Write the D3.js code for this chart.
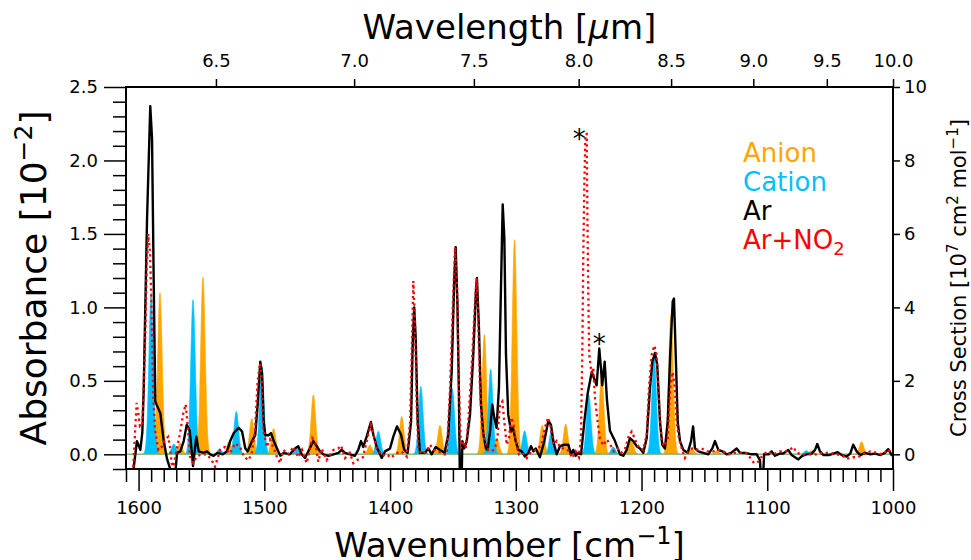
<!DOCTYPE html>
<html>
<head>
<meta charset="utf-8">
<script src="https://cdn.jsdelivr.net/npm/d3@7"></script>
<style>
  body { margin: 0; background: #fff; }
  svg { font-family: "DejaVu Sans", sans-serif; }
</style>
</head>
<body>
<div id="chart"></div>
<script>
// Chart size
const width = 971;
const height = 560;

// Stick spectra, cross section [10^7 cm^2 mol^-1]
const anionCenters = [1583, 1567, 1548.8, 1528, 1510, 1492.6, 1461, 1416, 1390.7, 1360.3, 1325, 1315, 1301, 1279, 1260.3, 1231.7, 1208, 1176.6, 1160, 1140, 1065, 1025];
const anionHeights = [4.4, 0.3, 4.83, 0.35, 0.97, 0.7, 1.62, 0.25, 1.03, 0.79, 3.26, 0.44, 5.84, 0.79, 0.82, 2.2, 0.39, 3.8, 0.16, 0.1, 0.1, 0.34];
const cationCenters = [1590, 1572, 1556.7, 1535.5, 1522.3, 1502, 1474, 1409.3, 1375.5, 1350.5, 1320, 1293, 1271.5, 1242, 1222.5, 1190, 1069];
const cationHeights = [4.4, 0.28, 4.21, 0.15, 1.17, 2.4, 0.15, 0.63, 1.85, 1.8, 2.32, 0.64, 0.67, 1.62, 0.2, 2.71, 0.1];

// Measured spectra, [wavenumber, absorbance in 10^-2]
const arSpectrum = [
  [1609, -0.3], [1604, -0.1], [1601.3, 0.09], [1598.6, 0.03], [1597, 0.15], [1595.9, 0.45],
  [1593.3, 1.59], [1590.7, 2.37], [1589.3, 2.15], [1588, 1.2], [1586.7, 0.36], [1585.3, 0.33],
  [1582.7, 0.28], [1580, 0.09], [1577.4, -0.03], [1575.2, -0.09], [1573.5, -0.2], [1571, -0.15],
  [1569.4, 0.01], [1566.8, 0.02], [1564.1, 0.09], [1561.7, 0.2], [1559.3, 0.16], [1557.5, 0.0],
  [1556.7, -0.08], [1554.1, 0.12], [1552.2, 0.02], [1548, 0.01], [1545.6, 0.02], [1543, 0.0],
  [1540.3, -0.01], [1537, 0.01], [1533, 0.0], [1529.7, 0.02], [1527.1, 0.09], [1524.3, 0.145],
  [1520.4, 0.18], [1517.7, 0.155], [1515.1, 0.04], [1513.2, 0.02], [1509.8, 0.09], [1507.2, 0.13],
  [1505.3, 0.34], [1503.2, 0.63], [1501.8, 0.55], [1500.5, 0.22], [1499.2, 0.13], [1496.5, 0.13],
  [1494.7, 0.145], [1492.5, 0.09], [1489.9, 0.04], [1487.3, -0.01], [1484.6, 0.01], [1479.6, 0.0],
  [1475.6, 0.04], [1473, 0.055], [1470.3, 0.0], [1467.6, -0.025], [1465, 0.02], [1461, 0.09],
  [1458.3, 0.055], [1455.7, 0.02], [1453, 0.0], [1449, -0.01], [1445, 0.0], [1441, 0.01],
  [1438.5, 0.03], [1435.8, 0.01], [1431.9, 0.0], [1427.9, -0.01], [1425.3, 0.03], [1423.1, 0.09],
  [1421.3, 0.05], [1418.6, 0.12], [1415.2, 0.22], [1413.3, 0.135], [1410.6, 0.05], [1406.6, -0.025],
  [1404, 0.02], [1400, 0.04], [1397.4, 0.12], [1394.5, 0.19], [1391.3, 0.135], [1388.7, 0.03],
  [1386, 0.01], [1383.3, 0.22], [1382, 0.75], [1380.8, 1.0], [1379.6, 0.79], [1378, 0.22],
  [1376.2, 0.01], [1372.2, 0.01], [1369.6, 0.04], [1366.9, 0.0], [1363.7, 0.05], [1360.3, 0.03],
  [1356.6, 0.01], [1353.7, 0.135], [1351, 0.56], [1348.9, 1.2], [1347.8, 1.41], [1346.4, 1.02],
  [1345.3, 0.45], [1344.6, -0.07], [1344.1, -0.4], [1343.5, -0.4], [1342.5, 0.09], [1341, 0.04],
  [1339, 0.09], [1336.4, 0.27], [1333.8, 0.68], [1331.6, 1.13], [1330.9, 1.2], [1329.3, 0.86],
  [1327.7, 0.34], [1325.8, 0.135], [1323.7, 0.04], [1322.4, 0.03], [1320.5, 0.155], [1318.7, 0.34],
  [1317.1, 0.25], [1315.3, 0.18], [1313.4, 0.45], [1311.8, 1.13], [1310.4, 1.7], [1309.1, 1.47],
  [1307.8, 0.68], [1306, 0.27], [1303.8, 0.155], [1302.2, 0.18], [1300.1, 0.09], [1298, 0.03],
  [1295.3, 0.02], [1292.7, -0.015], [1290, 0.01], [1287.9, 0.055], [1286, 0.02], [1284.1, 0.04],
  [1280.8, -0.02], [1277.3, 0.09], [1274.1, 0.23], [1272, 0.2], [1270.2, 0.09], [1267.5, 0.0],
  [1264.8, 0.055], [1261.4, 0.065], [1258.2, 0.065], [1256.1, 0.0], [1254.3, 0.03], [1252.4, -0.01],
  [1250.3, 0.01], [1248.1, 0.0], [1245.5, 0.22], [1242.9, 0.41], [1239.6, 0.56], [1237, 0.5],
  [1235.7, 0.47], [1233.6, 0.72], [1232.2, 0.58], [1231.3, 0.47], [1229.3, 0.63], [1227.5, 0.37],
  [1225.1, 0.16], [1221.1, 0.09], [1217.1, 0.0], [1214.5, -0.01], [1211.8, 0.03], [1209.2, 0.11],
  [1206.5, 0.09], [1203.9, 0.055], [1201.2, 0.04], [1198.6, 0.01], [1195.9, 0.11], [1193.3, 0.45],
  [1191.4, 0.63], [1189.3, 0.69], [1187.5, 0.61], [1185.3, 0.22], [1183.5, 0.065], [1181.4, 0.04],
  [1179.2, 0.22], [1177.2, 0.68], [1175.2, 1.04], [1174.2, 1.06], [1172.8, 0.68], [1171.2, 0.22],
  [1169.4, 0.09], [1166.8, 0.03], [1163.3, 0.01], [1160.6, 0.09], [1159, 0.19], [1157.5, 0.04],
  [1154.9, 0.02], [1150.9, 0.01], [1146.9, 0.0], [1143.7, 0.04], [1141.6, 0.09], [1138.9, 0.03],
  [1135.8, 0.02], [1132.3, 0.0], [1128.8, 0.01], [1124.3, 0.04], [1121.7, 0.01], [1117.7, 0.01],
  [1112.4, 0.0], [1108.4, 0.0], [1105.8, -0.04], [1104.8, -0.2], [1103.6, -0.2], [1102.5, 0.0],
  [1099, 0.0], [1096.5, 0.02], [1093.9, -0.01], [1090, 0.005], [1087.3, 0.005], [1083.3, 0.03],
  [1080.6, -0.005], [1078, -0.02], [1075.3, -0.035], [1072.2, -0.01], [1068.7, 0.0], [1064.7, 0.005],
  [1062, 0.03], [1060.2, 0.07], [1058.1, 0.02], [1055.4, -0.005], [1051, -0.005], [1047.5, 0.005],
  [1044, 0.015], [1040.8, -0.005], [1036.9, -0.015], [1034, 0.005], [1031.6, 0.065], [1028.9, 0.02],
  [1026, -0.005], [1022.3, 0.01], [1018, 0.0], [1014.3, 0.005], [1010, -0.005], [1006.4, 0.01],
  [1003.8, 0.035], [1001.1, -0.005], [1000, 0.0]
];

const arNo2Spectrum = [
  [1609, -0.15], [1606, -0.1], [1604.2, -0.085], [1602.5, 0.2], [1601.5, 0.35], [1600.2, 0.28],
  [1598.9, 0.19], [1597, 0.2], [1594.9, 0.73], [1593.5, 1.28], [1592.3, 1.5], [1590.9, 1.37],
  [1589.6, 0.96], [1588.3, 0.39], [1586.9, 0.165], [1584.3, 0.03], [1581.6, 0.05], [1579, 0.1],
  [1576.4, 0.12], [1575, 0.05], [1573.7, -0.06], [1572.4, -0.085], [1569.7, 0.03], [1567.1, 0.14],
  [1564.4, 0.28], [1562.5, 0.34], [1560.9, 0.19], [1559.1, -0.015], [1556.5, -0.06], [1553.8, -0.015],
  [1549.8, 0.0], [1545.8, 0.0], [1541.8, -0.04], [1539.2, -0.085], [1535.2, 0.03], [1531.3, 0.05],
  [1527.3, 0.005], [1523.3, 0.075], [1519.3, 0.05], [1516.2, -0.015], [1512.7, -0.04], [1510, 0.005],
  [1507.4, 0.165], [1505.3, 0.5], [1503.4, 0.62], [1502.1, 0.5], [1500.8, 0.165], [1498.1, 0.05],
  [1495.5, 0.1], [1492.9, 0.05], [1490.1, -0.015], [1487.5, -0.06], [1484.9, 0.03], [1481, 0.0],
  [1476.9, 0.05], [1473, -0.02], [1470, 0.03], [1466.3, -0.06], [1461.8, 0.11], [1459.5, 0.08],
  [1457.1, -0.05], [1454.4, 0.04], [1450.4, -0.04], [1445.1, 0.03], [1441.2, 0.04], [1439, 0.06],
  [1435.8, -0.025], [1432, 0.01], [1429.2, -0.06], [1425.3, -0.035], [1421.5, -0.02], [1417.3, 0.135],
  [1415.2, 0.2], [1413.3, 0.14], [1410.6, 0.04], [1406, -0.01], [1402.5, 0.0], [1399.3, -0.025],
  [1396, 0.0], [1392.1, 0.02], [1389.5, 0.01], [1386.8, -0.015], [1384.1, 0.22], [1382.8, 0.68],
  [1381.5, 1.18], [1380.2, 0.91], [1378.8, 0.34], [1377.5, 0.04], [1374.8, 0.0], [1370.9, 0.02],
  [1368.2, 0.065], [1365.5, 0.03], [1361.5, 0.02], [1357.5, 0.0], [1354.9, 0.0], [1352.3, 0.45],
  [1349.6, 1.13], [1348.3, 1.41], [1346.7, 1.13], [1345.2, 0.45], [1343.6, 0.04], [1341.7, 0.09],
  [1339.8, 0.04], [1337.8, 0.22], [1335, 0.61], [1332.4, 1.04], [1331.1, 1.2], [1329.8, 0.9],
  [1328.5, 0.45], [1326.6, 0.155], [1324.5, 0.09], [1321.8, 0.03], [1319, 0.02], [1316.5, 0.04],
  [1314.4, 0.135], [1312.6, 0.34], [1310.7, 0.36], [1309.1, 0.22], [1307.2, 0.065], [1305.4, 0.11],
  [1303.8, 0.25], [1302, 0.22], [1300.1, 0.09], [1297.5, 0.0], [1294.5, 0.01], [1291.3, -0.025],
  [1287.5, 0.02], [1283.5, 0.03], [1279.5, 0.065], [1276.9, 0.18], [1274.2, 0.25], [1272.1, 0.18],
  [1270, 0.065], [1267.5, 0.09], [1264, 0.04], [1260.8, 0.04], [1257.6, 0.02], [1255.1, -0.025],
  [1252.3, 0.02], [1249.8, -0.02], [1248.2, 0.11], [1247.1, 0.68], [1246.3, 1.36], [1245.5, 1.82],
  [1244.6, 2.18], [1243.6, 2.18], [1243.0, 1.59], [1242.4, 1.13], [1241.6, 0.68], [1239.6, 0.54],
  [1238.4, 0.59], [1237, 0.38], [1234.9, 0.22], [1233.1, 0.11], [1230.5, 0.06], [1227.7, 0.1],
  [1225.1, 0.07], [1222, 0.02], [1219, 0.04], [1216, 0.01], [1213, 0.04], [1210, 0.13],
  [1207.8, 0.155], [1205.5, 0.11], [1203.5, 0.065], [1201.2, 0.04], [1198.6, 0.03], [1195.9, 0.135],
  [1194.1, 0.45], [1191.9, 0.68], [1189.8, 0.74], [1188, 0.68], [1186.1, 0.34], [1184, 0.09],
  [1181.9, 0.055], [1179.2, 0.11], [1177.2, 0.45], [1175.2, 0.56], [1173.4, 0.45], [1172.1, 0.22],
  [1170.2, 0.11], [1168, 0.04], [1165.5, -0.025], [1162.5, 0.02], [1159.7, 0.04], [1156, 0.03],
  [1152.2, 0.04], [1148, 0.02], [1143, 0.02], [1139, 0.03], [1135, 0.02], [1131, 0.0],
  [1126, 0.01], [1121, 0.01], [1117, 0.01], [1113, -0.03], [1110.5, -0.06], [1107.1, -0.05],
  [1104, -0.01], [1100, 0.02], [1095, 0.0], [1090, 0.02], [1085, 0.02], [1082, 0.03],
  [1079.3, 0.05], [1076.5, 0.01], [1072, 0.0], [1066, 0.0], [1060, 0.0], [1055, 0.01],
  [1050, 0.01], [1045, 0.0], [1040, -0.01], [1036.9, -0.03], [1032, -0.02], [1028, -0.02],
  [1024, 0.0], [1018, 0.02], [1013, 0.01], [1008, 0.0], [1004, 0.035], [1000, 0.0]
];

// Asterisk marks [wavenumber, absorbance]
const asterisks = [[1249.5, 2.185], [1233.6, 0.79]];

// Tick values
const wavenumberTicks = [1600, 1500, 1400, 1300, 1200, 1100, 1000];
const absorbanceTicks = [0.0, 0.5, 1.0, 1.5, 2.0, 2.5];
const crossSectionTicks = [0, 2, 4, 6, 8, 10];
const wavelengthTicks = [6.5, 7.0, 7.5, 8.0, 8.5, 9.0, 9.5, 10.0];

// Legend
const legendLabels = ["Anion", "Cation", "Ar", "Ar+NO2"];
const legendColors = ["#FFA500", "#00BFFF", "#000000", "#FF0000"];

// Plot box
const plotLeft = 126, plotRight = 893, plotTop = 87, plotBottom = 469;

const svg = d3.select("#chart")
    .append("svg")
    .attr("width", width)
    .attr("height", height);

// Scales
const x = d3.scaleLinear().domain([1610, 1000]).range([plotLeft, plotRight]);
const yAbs = d3.scaleLinear().domain([-0.1, 2.5]).range([plotBottom, plotTop]);
const yCross = d3.scaleLinear().domain([-0.4, 10]).range([plotBottom, plotTop]);

svg.append("clipPath")
    .attr("id", "plot-clip")
    .append("rect")
    .attr("x", plotLeft)
    .attr("y", plotTop)
    .attr("width", plotRight - plotLeft)
    .attr("height", plotBottom - plotTop);

const plot = svg.append("g").attr("clip-path", "url(#plot-clip)");

// Broaden each stick spectrum with a Gaussian for display
const sigma = 1.8;
const grid = d3.range(1610, 999.75, -0.25);
function profile(centers, heights) {
    return grid.map(w => {
        let v = 0;
        centers.forEach((c, i) => {
            v += heights[i] * Math.exp(-0.5 * ((w - c) / sigma) ** 2);
        });
        return [w, v];
    });
}

const stickArea = d3.area()
    .x(d => x(d[0]))
    .y0(yCross(0))
    .y1(d => yCross(d[1]));

plot.append("path")
    .datum(profile(anionCenters, anionHeights))
    .attr("d", stickArea)
    .attr("fill", "#FFA500")
    .attr("stroke", "#FFA500")
    .attr("stroke-width", 0.6);

plot.append("path")
    .datum(profile(cationCenters, cationHeights))
    .attr("d", stickArea)
    .attr("fill", "#00BFFF")
    .attr("stroke", "#00BFFF")
    .attr("stroke-width", 0.6);

// thin baseline where both fills meet
plot.append("line")
    .attr("x1", plotLeft).attr("x2", plotRight)
    .attr("y1", yCross(0)).attr("y2", yCross(0))
    .attr("stroke", "#9dbb6a")
    .attr("stroke-width", 1);

const line = d3.line()
    .x(d => x(d[0]))
    .y(d => yAbs(d[1]));

plot.append("path")
    .datum(arSpectrum)
    .attr("d", line)
    .attr("fill", "none")
    .attr("stroke", "#000")
    .attr("stroke-width", 2.4)
    .attr("stroke-linejoin", "round");

plot.append("path")
    .datum(arNo2Spectrum)
    .attr("d", line)
    .attr("fill", "none")
    .attr("stroke", "#FF0000")
    .attr("stroke-width", 2.3)
    .attr("stroke-dasharray", "2.3,3.4");

// Asterisks
svg.selectAll("text.star")
    .data(asterisks)
    .join("text")
    .attr("class", "star")
    .attr("x", d => x(d[0]))
    .attr("y", d => yAbs(d[1]) + 15)
    .attr("text-anchor", "middle")
    .attr("font-size", 26)
    .text("*");

// Axes
const tickFont = 18;

function styleAxis(g) {
    g.select(".domain").remove();
    g.selectAll(".tick line").attr("stroke", "#000").attr("stroke-width", 1.5);
    g.selectAll(".tick text").attr("font-size", tickFont).attr("fill", "#000")
        .attr("font-family", "DejaVu Sans");
}

const minorWn = d3.range(1000, 1611, 10).filter(v => v % 100 !== 0);
svg.append("g")
    .attr("transform", `translate(0,${plotBottom})`)
    .call(d3.axisBottom(x).tickValues(minorWn).tickSize(13).tickFormat(""))
    .call(styleAxis);
svg.append("g")
    .attr("transform", `translate(0,${plotBottom})`)
    .call(d3.axisBottom(x).tickValues(wavenumberTicks).tickSize(22).tickPadding(10).tickFormat(d3.format("d")))
    .call(styleAxis);

const minorAbs = d3.range(-0.1, 2.51, 0.1).map(v => +v.toFixed(1)).filter(v => Math.round(v * 10) % 5 !== 0);
svg.append("g")
    .attr("transform", `translate(${plotLeft},0)`)
    .call(d3.axisLeft(yAbs).tickValues(minorAbs).tickSize(13).tickFormat(""))
    .call(styleAxis);
svg.append("g")
    .attr("transform", `translate(${plotLeft},0)`)
    .call(d3.axisLeft(yAbs).tickValues(absorbanceTicks).tickSize(22).tickPadding(6).tickFormat(d3.format(".1f")))
    .call(styleAxis);

svg.append("g")
    .attr("transform", `translate(${plotRight},0)`)
    .call(d3.axisRight(yCross).tickValues(crossSectionTicks).tickSize(7).tickPadding(4).tickFormat(d3.format("d")))
    .call(styleAxis);

svg.append("g")
    .attr("transform", `translate(0,${plotTop})`)
    .call(d3.axisTop(x).tickValues(wavelengthTicks.map(l => 1e4 / l)).tickSize(8).tickPadding(12)
        .tickFormat((d, i) => d3.format(".1f")(wavelengthTicks[i])))
    .call(styleAxis);

// Frame
svg.append("rect")
    .attr("x", plotLeft).attr("y", plotTop)
    .attr("width", plotRight - plotLeft).attr("height", plotBottom - plotTop)
    .attr("fill", "none")
    .attr("stroke", "#000")
    .attr("stroke-width", 2);

// Axis titles
const xTitle = svg.append("text")
    .attr("x", (plotLeft + plotRight) / 2)
    .attr("y", 557)
    .attr("text-anchor", "middle")
    .attr("font-size", 34);
xTitle.append("tspan").text("Wavenumber [cm");
xTitle.append("tspan").attr("dy", -13).attr("font-size", 24).text("\u22121");
xTitle.append("tspan").attr("dy", 13).text("]");

const topTitle = svg.append("text")
    .attr("x", (plotLeft + plotRight) / 2)
    .attr("y", 39)
    .attr("text-anchor", "middle")
    .attr("font-size", 34);
topTitle.append("tspan").text("Wavelength [");
topTitle.append("tspan").attr("font-style", "italic").text("\u03bc");
topTitle.append("tspan").text("m]");

const yTitle = svg.append("text")
    .attr("transform", `translate(46,${(plotTop + plotBottom) / 2}) rotate(-90)`)
    .attr("text-anchor", "middle")
    .attr("font-size", 36);
yTitle.append("tspan").text("Absorbance [10");
yTitle.append("tspan").attr("dy", -14).attr("font-size", 25).text("\u22122");
yTitle.append("tspan").attr("dy", 14).text("]");

const rTitle = svg.append("text")
    .attr("transform", `translate(966,${(plotTop + plotBottom) / 2}) rotate(-90)`)
    .attr("text-anchor", "middle")
    .attr("font-size", 21);
rTitle.append("tspan").text("Cross Section [10");
rTitle.append("tspan").attr("dy", -8).attr("font-size", 15).text("7");
rTitle.append("tspan").attr("dy", 8).text(" cm");
rTitle.append("tspan").attr("dy", -8).attr("font-size", 15).text("2");
rTitle.append("tspan").attr("dy", 8).text(" mol");
rTitle.append("tspan").attr("dy", -8).attr("font-size", 15).text("\u22121");
rTitle.append("tspan").attr("dy", 8).text("]");

// Legend (text only, coloured)
const legend = svg.append("g").attr("transform", "translate(743,162)");
legendLabels.forEach((label, i) => {
    const t = legend.append("text")
        .attr("x", 0)
        .attr("y", i * 29)
        .attr("font-size", 26)
        .attr("fill", legendColors[i]);
    if (label === "Ar+NO2") {
        t.append("tspan").text("Ar+NO");
        t.append("tspan").attr("dy", 6).attr("font-size", 18).text("2");
    } else {
        t.text(label);
    }
});
</script>
</body>
</html>
